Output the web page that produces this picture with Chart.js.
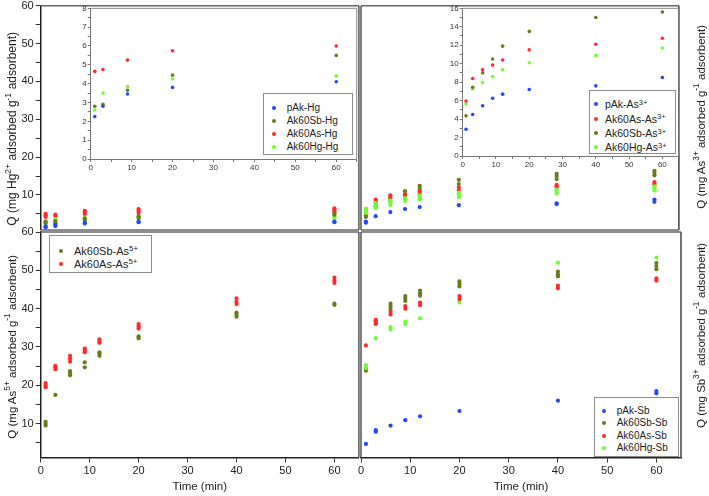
<!DOCTYPE html>
<html><head><meta charset="utf-8">
<script src="https://cdn.jsdelivr.net/npm/chart.js@4.4.1/dist/chart.umd.min.js"></script>
<style>
html,body{margin:0;padding:0;background:#fff;}
#wrap{position:relative;width:709px;height:496px;overflow:hidden;font-family:'Liberation Sans',Arial,sans-serif;color:#222;background:#fff;}
canvas{position:absolute;}
.ttl{position:absolute;white-space:nowrap;writing-mode:vertical-rl;transform:rotate(180deg);font-size:11px;line-height:14px;color:#222;}
.sup{font-size:0.72em;position:relative;left:0.45em;}
.leg{position:absolute;border:1px solid #8c8c8c;background:#fff;box-sizing:border-box;}
.li{position:absolute;white-space:nowrap;line-height:1;transform:translateY(-50%);}
.lsup{font-size:0.72em;position:relative;top:-0.45em;}
.dot{position:absolute;border-radius:50%;}
</style></head>
<body><div id="wrap"></div>
<script>
// ---------------- DATA ----------------
const timesHg  = [1, 3, 9, 20, 60];
const timesAs3 = [1, 3, 6, 9, 12, 20, 40, 60];
const timesAs5 = [1, 3, 6, 9, 12, 20, 40, 60];
const timesSb  = [1, 3, 6, 9, 12, 20, 40, 60];

// Hg2+ main panel (replicates)
const hgMain_pAk    = [[1.4,1.7],[1.8,2.1],[2.5,2.7],[2.8,3.0],[2.8,3.0]];
const hgMain_Ak60Sb = [[2.6,3.0],[2.6,3.1],[3.4,3.8],[3.9,4.4],[4.8,5.2]];
const hgMain_Ak60As = [[4.2,4.6,5.0],[4.4,4.8],[5.0,5.5,5.8],[5.3,5.8,6.3],[5.5,6.0,6.5]];
const hgMain_Ak60Hg = [[2.0,2.5,2.9],[2.5,3.0,3.6],[3.4,3.9],[3.7,4.3],[3.9,4.3]];
// Hg2+ inset
const hgIns_pAk    = [2.25, 2.8, 3.45, 3.8, 4.1];
const hgIns_Ak60Sb = [2.8, 2.9, 3.65, 4.45, 5.5];
const hgIns_Ak60As = [4.65, 4.75, 5.25, 5.75, 6.0];
const hgIns_Ak60Hg = [2.6, 3.5, 3.85, 4.25, 4.4];

// As3+ main panel (replicates)
const as3Main_pAk    = [[2.7,3.0],[4.4],[5.5],[6.3],[6.8],[7.3],[7.6,7.8],[8.2,8.8]];
const as3Main_Ak60Sb = [[4.2,4.6],[7.0,7.9],[8.5,9.2],[10.1,11.0],[11.6,12.4],[12.9,14.0],[14.2,15.0,15.6],[15.2,15.8,16.4]];
const as3Main_Ak60As = [[5.8,6.2],[8.2,8.8],[9.3,9.9],[9.8,10.2],[10.4,11.0],[11.2,12.0],[11.9,12.3,12.7],[12.5,13.0,13.4]];
const as3Main_Ak60Hg = [[5.3,5.9,6.4],[6.6,7.3,7.9],[7.4,8.0,8.5],[8.4,8.8,9.2],[8.9,9.4,9.9],[9.5,10.1,10.6],[10.4,10.9,11.4],[11.2,11.7,12.3]];
// As3+ inset
const as3Ins_pAk    = [2.9, 4.5, 5.45, 6.25, 6.7, 7.2, 7.6, 8.5];
const as3Ins_Ak60As = [5.95, 8.4, 9.35, 9.85, 10.4, 11.5, 12.1, 12.75];
const as3Ins_Ak60Sb = [4.35, 7.45, 9.0, 10.5, 11.9, 13.5, 15.0, 15.6];
const as3Ins_Ak60Hg = [5.65, 7.25, 7.95, 8.6, 9.35, 10.1, 10.9, 11.7];

// As5+ panel (replicates)
const as5_Ak60Sb = [[9.5,10.0,10.5],[17.5],[22.6,23.2,23.7],[24.7,26.0],[27.7,28.2,28.6],[32.3,32.8],[37.9,38.5,39.0],[41.0,41.3]];
const as5_Ak60As = [[19.5,20.0,20.6],[24.2,24.7,25.1],[26.2,27.0,27.7],[28.6,29.1,29.6],[31.1,31.5,32.0],[34.8,35.4,36.0],[41.2,41.8,42.7],[46.7,47.4,48.1]];

// Sb3+ panel (replicates)
const sb_pAk    = [[4.7],[7.9,8.3],[9.5],[10.9],[11.9],[13.3],[16.0],[17.9,18.5]];
const sb_Ak60Sb = [[23.8,24.4],[36.0,36.9],[39.9,40.6,41.3],[42.0,42.6,43.3],[43.4,44.0,44.7],[45.8,46.5,47.1],[48.4,49.0,49.7],[50.3,51.1,51.9]];
const sb_Ak60As = [[30.4],[36.2,36.7,37.1],[38.5,39.2],[40.0,40.7],[40.9,41.6],[42.5,43.3],[45.3,46.0],[47.3,47.9]];
const sb_Ak60Hg = [[24.5,25.3],[32.3],[34.6,35.2],[36.0,36.6],[37.5],[41.6,42.0],[52.0],[53.3]];

// Labels
const namesHg  = ['pAk-Hg', 'Ak60Sb-Hg', 'Ak60As-Hg', 'Ak60Hg-Hg'];
const namesAs3 = ['pAk-As', 'Ak60As-As', 'Ak60Sb-As', 'Ak60Hg-As'];
const namesAs5 = ['Ak60Sb-As', 'Ak60As-As'];
const namesSb  = ['pAk-Sb', 'Ak60Sb-Sb', 'Ak60As-Sb', 'Ak60Hg-Sb'];
const mainXTicks  = [0, 10, 20, 30, 40, 50, 60];
const mainYTicks  = [5, 10, 15, 20, 25, 30, 35, 40, 45, 50, 55, 60];
const insXTicks   = [0, 5, 10, 15, 20, 25, 30, 35, 40, 45, 50, 55, 60, 65];
const insHgYTicks = [0, 0.5, 1, 1.5, 2, 2.5, 3, 3.5, 4, 4.5, 5, 5.5, 6, 6.5, 7, 7.5, 8];
const insAsYTicks = [0, 1, 2, 3, 4, 5, 6, 7, 8, 9, 10, 11, 12, 13, 14, 15, 16];
const timeTitle = 'Time (min)';

// ---------------- STYLE ----------------
const C = {blue:'#2346ff', olive:'#6b7a1c', red:'#ff2a2a', green:'#6cff2c'};
const FONT = "'Liberation Sans', Arial, sans-serif";
const wrap = document.getElementById('wrap');

function pts(times, reps){
  const out = [];
  reps.forEach((r, i) => { (Array.isArray(r) ? r : [r]).forEach(v => out.push({x: times[i], y: v})); });
  return out;
}
function ds(label, times, vals, color, r){
  return {label, data: pts(times, vals), backgroundColor: color, borderColor: color, borderWidth: 0,
          pointRadius: r, pointHoverRadius: r, showLine: false};
}
function fixedTicks(vals){ return s => { s.ticks = vals.map(v => ({value: v})); }; }
function fitBox(w, h){ return s => {
  if (w != null) s.width = w; if (h != null) s.height = h;
  s.paddingLeft = 0; s.paddingRight = 0; s.paddingTop = 0; s.paddingBottom = 0; }; }

const framePlugin = {
  id: 'frame',
  afterDatasetsDraw(chart, args, o){
    const a = chart.chartArea, ctx = chart.ctx;
    ctx.save();
    const line = (c, w, x1, y1, x2, y2) => { if (!c) return; ctx.strokeStyle = c; ctx.lineWidth = w; ctx.beginPath(); ctx.moveTo(x1, y1); ctx.lineTo(x2, y2); ctx.stroke(); };
    const w = o.width || 1.5;
    line(o.top, w, a.left, a.top, a.right, a.top);
    line(o.right, w, a.right, a.top, a.right, a.bottom);
    line(o.bottom, w, a.left, a.bottom, a.right, a.bottom);
    line(o.left, w, a.left, a.top, a.left, a.bottom);
    ctx.restore();
  }
};

function addCanvas(l, t, w, h){
  const c = document.createElement('canvas');
  c.width = w; c.height = h;
  c.style.left = l + 'px'; c.style.top = t + 'px'; c.style.width = w + 'px'; c.style.height = h + 'px';
  wrap.appendChild(c); return c;
}
function makeChart(canvas, datasets, scales, padding, frame){
  return new Chart(canvas, {
    type: 'scatter',
    data: {datasets},
    options: {
      responsive: false, animation: false, devicePixelRatio: 1,
      layout: {padding},
      events: [],
      plugins: {legend: {display: false}, tooltip: {enabled: false}, frame},
      scales
    },
    plugins: [framePlugin]
  });
}
function yMain(min, max, show, width){
  return {
    type: 'linear', position: 'left', min, max, display: show,
    afterBuildTicks: fixedTicks(mainYTicks), afterFit: fitBox(width, null),
    ticks: {autoSkip: false, padding: 2, color: '#222', font: {size: 11, family: FONT},
            callback: v => (v % 10 === 0 ? String(v) : '')},
    grid: {drawOnChartArea: false, drawTicks: true, tickLength: 5, color: '#333', tickColor: '#333'},
    border: {display: true, color: '#222', width: 1.5}
  };
}
function xMain(show, height){
  return {
    type: 'linear', position: 'bottom', min: 0, max: 65, display: show,
    afterBuildTicks: fixedTicks(mainXTicks), afterFit: fitBox(null, height),
    ticks: {autoSkip: false, maxRotation: 0, padding: 2, color: '#222', font: {size: 11, family: FONT}},
    grid: {drawOnChartArea: false, drawTicks: true, tickLength: 5, color: '#333', tickColor: '#333'},
    border: {display: true, color: '#222', width: 1.5},
    title: {display: true, text: timeTitle, color: '#222', font: {size: 11.5, family: FONT}, padding: {top: 0, bottom: 2}}
  };
}
function xIns(height){
  return {
    type: 'linear', position: 'bottom', min: 0, max: 65,
    afterBuildTicks: fixedTicks(insXTicks), afterFit: fitBox(null, height),
    ticks: {autoSkip: false, maxRotation: 0, padding: 1, color: '#333', font: {size: 8, family: FONT},
            callback: v => (v % 10 === 0 ? String(v) : '')},
    grid: {drawOnChartArea: false, drawTicks: true, tickLength: 3, color: '#777', tickColor: '#777'},
    border: {display: true, color: '#777', width: 1}
  };
}
function yIns(max, tickVals, major, width){
  return {
    type: 'linear', position: 'left', min: 0, max,
    afterBuildTicks: fixedTicks(tickVals), afterFit: fitBox(width, null),
    ticks: {autoSkip: false, padding: 1, color: '#333', font: {size: 8, family: FONT},
            callback: v => (Math.abs(v % major) < 1e-9 ? String(v) : '')},
    grid: {drawOnChartArea: false, drawTicks: true, tickLength: 3, color: '#777', tickColor: '#777'},
    border: {display: true, color: '#777', width: 1}
  };
}

const R = 2.1;
// ---------- Top-left main (Hg2+) ----------
makeChart(addCanvas(0, 0, 361, 232), [
  ds(namesHg[0], timesHg, hgMain_pAk, C.blue, R),
  ds(namesHg[1], timesHg, hgMain_Ak60Sb, C.olive, R),
  ds(namesHg[3], timesHg, hgMain_Ak60Hg, C.green, R),
  ds(namesHg[2], timesHg, hgMain_Ak60As, C.red, R)
], {x: {type: 'linear', min: 0, max: 65, display: false}, y: yMain(0.78, 60, true, 40.7)},
  {top: 5.7, left: 0, right: 0, bottom: 0},
  {top: '#666', right: '#555', bottom: '#666'});

// ---------- Top-right main (As3+) ----------
makeChart(addCanvas(356, 0, 325, 232), [
  ds(namesAs3[0], timesAs3, as3Main_pAk, C.blue, R),
  ds(namesAs3[3], timesAs3, as3Main_Ak60Hg, C.green, R),
  ds(namesAs3[1], timesAs3, as3Main_Ak60As, C.red, R),
  ds(namesAs3[2], timesAs3, as3Main_Ak60Sb, C.olive, R)
], {x: {type: 'linear', min: 0, max: 65, display: false}, y: {type: 'linear', min: 0.78, max: 60, display: false}},
  {top: 5.7, left: 5, right: 0, bottom: 0},
  {top: '#666', right: '#444', bottom: '#666', left: '#555'});

// ---------- Bottom-left (As5+) ----------
makeChart(addCanvas(0, 222, 361, 274), [
  ds(namesAs5[0], timesAs5, as5_Ak60Sb, C.olive, R),
  ds(namesAs5[1], timesAs5, as5_Ak60As, C.red, R)
], {x: xMain(true, 38.5), y: yMain(1.17, 60, true, 40.7)},
  {top: 10, left: 0, right: 0, bottom: 0},
  {top: '#666', right: '#555'});

// ---------- Bottom-right (Sb3+) ----------
makeChart(addCanvas(351, 222, 340, 274), [
  ds(namesSb[0], timesSb, sb_pAk, C.blue, R),
  ds(namesSb[2], timesSb, sb_Ak60As, C.red, R),
  ds(namesSb[3], timesSb, sb_Ak60Hg, C.green, R),
  ds(namesSb[1], timesSb, sb_Ak60Sb, C.olive, R)
], {x: xMain(true, 38.5), y: {type: 'linear', min: 1.17, max: 60, display: false}},
  {top: 10, left: 10, right: 10, bottom: 0},
  {top: '#666', right: '#444', left: '#555'});

// ---------- Top-left inset (Hg2+) ----------
makeChart(addCanvas(60, 0, 300, 175), [
  ds(namesHg[0], timesHg, hgIns_pAk, C.blue, 1.8),
  ds(namesHg[1], timesHg, hgIns_Ak60Sb, C.olive, 1.8),
  ds(namesHg[2], timesHg, hgIns_Ak60As, C.red, 1.8),
  ds(namesHg[3], timesHg, hgIns_Ak60Hg, C.green, 1.8)
], {x: xIns(16), y: yIns(8, insHgYTicks, 1, 30.7)},
  {top: 8.3, left: 0, right: 3.3, bottom: 0},
  {top: '#888', right: '#888', width: 1});

// ---------- Top-right inset (As3+) ----------
makeChart(addCanvas(430, 0, 251, 172), [
  ds(namesAs3[0], timesAs3, as3Ins_pAk, C.blue, 1.8),
  ds(namesAs3[1], timesAs3, as3Ins_Ak60As, C.red, 1.8),
  ds(namesAs3[2], timesAs3, as3Ins_Ak60Sb, C.olive, 1.8),
  ds(namesAs3[3], timesAs3, as3Ins_Ak60Hg, C.green, 1.8)
], {x: xIns(16), y: yIns(16, insAsYTicks, 2, 32.7)},
  {top: 8.3, left: 0, right: 2, bottom: 0},
  {top: '#888', right: '#888', width: 1});

// ---------------- HTML titles & legends ----------------
function title(cx, cy, html, size){
  const d = document.createElement('div'); d.className = 'ttl';
  if (size) d.style.fontSize = size + 'px';
  d.innerHTML = html; wrap.appendChild(d);
  const w = d.offsetWidth, h = d.offsetHeight;
  d.style.left = Math.round(cx - w / 2) + 'px'; d.style.top = Math.round(cy - h / 2) + 'px';
}
const sup = s => '<span class="sup">' + s + '</span>';
const lsup = s => '<span class="lsup">' + s + '</span>';
title(12, 129, 'Q (mg Hg' + sup('2+') + ' adsorbed g' + sup('-1') + ' adsorbent)', 12);
title(12, 347, 'Q (mg As' + sup('5+') + ' adsorbed g' + sup('-1') + ' adsorbent)', 11.5);
title(701, 117, 'Q (mg As' + sup('3+') + ' adsorbed g' + sup('-1') + ' adsorbent)', 11.5);
title(701, 335, 'Q (mg Sb' + sup('3+') + ' adsorbed g' + sup('-1') + ' adsorbent)', 11.5);

function legend(box, markerX, textX, ys, size, items){
  const L = document.createElement('div'); L.className = 'leg';
  L.style.left = box[0] + 'px'; L.style.top = box[1] + 'px'; L.style.width = box[2] + 'px'; L.style.height = box[3] + 'px';
  items.forEach((it, i) => {
    const d = document.createElement('div'); d.className = 'dot';
    d.style.width = d.style.height = '4px'; d.style.background = it[1];
    d.style.left = (markerX - box[0] - 3) + 'px'; d.style.top = (ys[i] - box[1] - 3) + 'px';
    L.appendChild(d);
    const t = document.createElement('div'); t.className = 'li';
    t.style.left = (textX - box[0] - 1) + 'px'; t.style.top = (ys[i] - box[1] - 1) + 'px'; t.style.fontSize = size + 'px';
    t.innerHTML = it[0]; L.appendChild(t);
  });
  wrap.appendChild(L);
}
legend([262.7, 92.7, 90, 62.3], 274, 286.7, [108, 121, 134, 147], 10,
  [[namesHg[0], C.blue], [namesHg[1], C.olive], [namesHg[2], C.red], [namesHg[3], C.green]]);
legend([588.5, 90, 87.5, 64], 596, 605, [104, 118.5, 133, 147], 10.5,
  [[namesAs3[0] + lsup('3+'), C.blue], [namesAs3[1] + lsup('3+'), C.red], [namesAs3[2] + lsup('3+'), C.olive], [namesAs3[3] + lsup('3+'), C.green]]);
legend([49.3, 235, 103, 38], 60.7, 74, [250.7, 264], 11,
  [[namesAs5[0] + lsup('5+'), C.olive], [namesAs5[1] + lsup('5+'), C.red]]);
legend([594.3, 397.3, 85, 59.4], 604, 616.7, [411, 423.3, 435.7, 448.3], 10,
  [[namesSb[0], C.blue], [namesSb[1], C.olive], [namesSb[2], C.red], [namesSb[3], C.green]]);
</script>
</body></html>
